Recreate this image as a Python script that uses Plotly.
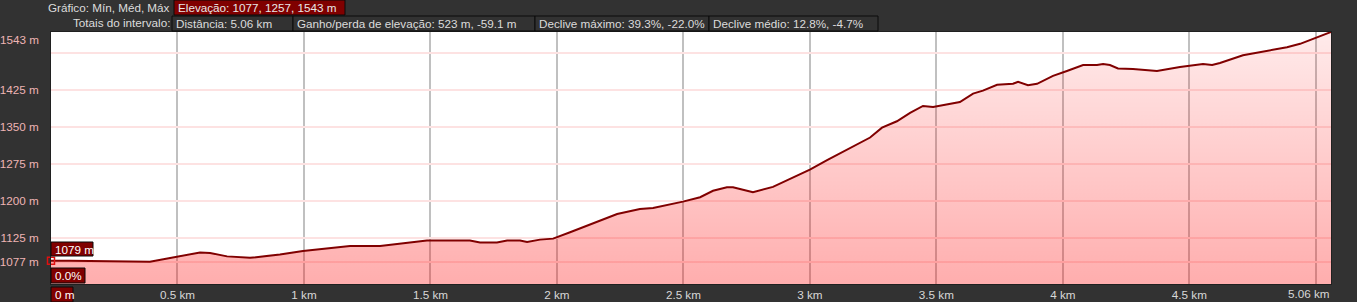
import plotly.graph_objects as go

# ---------------- data ----------------
dist_km = [0.000, 0.075, 0.391, 0.498, 0.589, 0.629, 0.696, 0.787, 0.905, 0.996,
           1.115, 1.182, 1.301, 1.392, 1.486, 1.656, 1.696, 1.763, 1.803, 1.854,
           1.882, 1.933, 1.985, 2.052, 2.131, 2.238, 2.328, 2.380, 2.498, 2.566,
           2.617, 2.672, 2.696, 2.775, 2.854, 3.000, 3.068, 3.186, 3.238, 3.285,
           3.344, 3.396, 3.447, 3.487, 3.593, 3.645, 3.684, 3.740, 3.803, 3.823,
           3.862, 3.898, 3.961, 4.016, 4.080, 4.135, 4.159, 4.186, 4.218, 4.277,
           4.372, 4.463, 4.554, 4.590, 4.621, 4.712, 4.791, 4.886, 4.938, 5.060]
elev_m = [1079, 1079, 1077, 1088, 1096, 1095, 1088, 1085, 1092, 1099,
          1106, 1109, 1109, 1114, 1120, 1120, 1116, 1116, 1120, 1120,
          1117, 1122, 1124, 1137, 1153, 1174, 1184, 1186, 1199, 1208,
          1221, 1228, 1228, 1218, 1229, 1264, 1283, 1315, 1329, 1349,
          1362, 1379, 1393, 1391, 1401, 1418, 1424, 1436, 1438, 1442,
          1435, 1438, 1454, 1464, 1476, 1476, 1478, 1476, 1469, 1468,
          1464, 1472, 1478, 1476, 1480, 1496, 1503, 1512, 1519, 1543]

y_tick_vals = [1077, 1125, 1200, 1275, 1350, 1425, 1500]
y_tick_text = ["1077 m", "1125 m", "1200 m", "1275 m", "1350 m", "1425 m", ""]
x_tick_vals = [0.5, 1, 1.5, 2, 2.5, 3, 3.5, 4, 4.5, 5]
x_tick_text = ["0.5 km", "1 km", "1.5 km", "2 km", "2.5 km", "3 km", "3.5 km",
               "4 km", "4.5 km", ""]
total_km_label = "5.06 km"
max_label = "1543 m"
y_axis_min = 1032
y_axis_max = 1543

header_row1_label = "Gráfico: Mín, Méd, Máx"
header_row1_boxes = ["Elevação: 1077, 1257, 1543 m"]
header_row2_label = "Totais do intervalo:"
header_row2_boxes = ["Distância: 5.06 km",
                     "Ganho/perda de elevação: 523 m, -59.1 m",
                     "Declive máximo: 39.3%, -22.0%",
                     "Declive médio: 12.8%, -4.7%"]
cursor_elev_label = "1079 m"
cursor_grade_label = "0.0%"
cursor_dist_label = "0 m"

# ---------------- layout helpers ----------------
W, H = 1357, 302
L, R, T, B = 51, 26, 32, 18
PW, PH = W - L - R, H - T - B
FS = 11.7


def px(x):
    return (x - L) / PW


def py(y):
    return (H - B - y) / PH


BG = "#323232"
DARKRED = "#800000"
FONT = "Liberation Sans, Arial, sans-serif"

fig = go.Figure()
fig.add_trace(go.Scatter(
    x=dist_km, y=elev_m, mode="lines",
    line=dict(color=DARKRED, width=2),
    fill="tozeroy",
    fillgradient=dict(type="vertical", start=y_axis_min, stop=y_axis_max,
                      colorscale=[[0, "rgba(255,0,0,0.32)"],
                                  [1, "rgba(255,0,0,0.08)"]]),
    hoverinfo="skip", showlegend=False,
))
# cursor marker at the first point
fig.add_trace(go.Scatter(
    x=[dist_km[0]], y=[elev_m[0]], mode="markers",
    marker=dict(symbol="square-open", size=7, color="#e01010", line=dict(width=1.5)),
    hoverinfo="skip", showlegend=False, cliponaxis=False,
))

shapes = []
annotations = []


def box(x0, x1, y0, y1, text, fill, tcolor="#e8e8e8"):
    shapes.append(dict(type="rect", xref="paper", yref="paper",
                       x0=px(x0), x1=px(x1), y0=py(y1), y1=py(y0),
                       fillcolor=fill, line=dict(color="#0a0a0a", width=1),
                       layer="above"))
    annotations.append(dict(xref="paper", yref="paper", x=px(x0 + 2), y=py((y0 + y1) / 2),
                            xanchor="left", yanchor="middle", text=text, showarrow=False,
                            font=dict(family=FONT, size=FS, color=tcolor)))


# header row 1
annotations.append(dict(xref="paper", yref="paper", x=px(172), y=py(8), xanchor="right",
                        yanchor="middle", text=header_row1_label, showarrow=False,
                        font=dict(family=FONT, size=FS, color="#dcdcdc")))
box(174, 345, 0, 15, header_row1_boxes[0], DARKRED)
# header row 2
annotations.append(dict(xref="paper", yref="paper", x=px(172), y=py(23), xanchor="right",
                        yanchor="middle", text=header_row2_label, showarrow=False,
                        font=dict(family=FONT, size=FS, color="#dcdcdc")))
row2_edges = [172, 293, 535, 709, 878]
for i, t in enumerate(header_row2_boxes):
    box(row2_edges[i], row2_edges[i + 1], 16, 31, t, BG, "#dcdcdc")

# cursor boxes
box(51, 93, 242, 256, cursor_elev_label, DARKRED, "#ffffff")
box(51, 85, 268, 283, cursor_grade_label, DARKRED, "#ffffff")
box(51, 73, 287, 302, cursor_dist_label, DARKRED, "#ffffff")

# max y label and total distance label
annotations.append(dict(xref="paper", yref="paper", x=px(41), y=py(39), xanchor="right",
                        yanchor="middle", text=max_label, showarrow=False,
                        font=dict(family=FONT, size=FS, color="#eeb4b4")))
annotations.append(dict(xref="paper", yref="paper", x=px(1332), y=py(293), xanchor="right",
                        yanchor="middle", text=total_km_label, showarrow=False,
                        font=dict(family=FONT, size=FS, color="#d8d8d8")))

fig.update_layout(
    width=W, height=H, margin=dict(l=L, r=R, t=T, b=B, pad=0, autoexpand=False),
    paper_bgcolor=BG, plot_bgcolor="#ffffff",
    shapes=shapes, annotations=annotations, showlegend=False,
    font=dict(family=FONT, size=FS),
    xaxis=dict(range=[0, dist_km[-1]], tickvals=x_tick_vals, ticktext=x_tick_text,
               showgrid=True, gridcolor="#c0c0c0", gridwidth=2, zeroline=False,
               showline=True, linecolor="#202020", linewidth=1, mirror=True,
               ticks="", tickfont=dict(family=FONT, size=FS, color="#d8d8d8"),
               ticklabelstandoff=0, fixedrange=True, automargin=False),
    yaxis=dict(range=[y_axis_min, y_axis_max], tickvals=y_tick_vals, ticktext=y_tick_text,
               showgrid=True, gridcolor="#fde2e2", gridwidth=2, zeroline=False,
               showline=True, linecolor="#202020", linewidth=1, mirror=True,
               ticks="", tickfont=dict(family=FONT, size=FS, color="#eeb4b4"),
               ticklabelstandoff=9, fixedrange=True, automargin=False),
)

fig.write_html("out.html", config={"displayModeBar": False})
